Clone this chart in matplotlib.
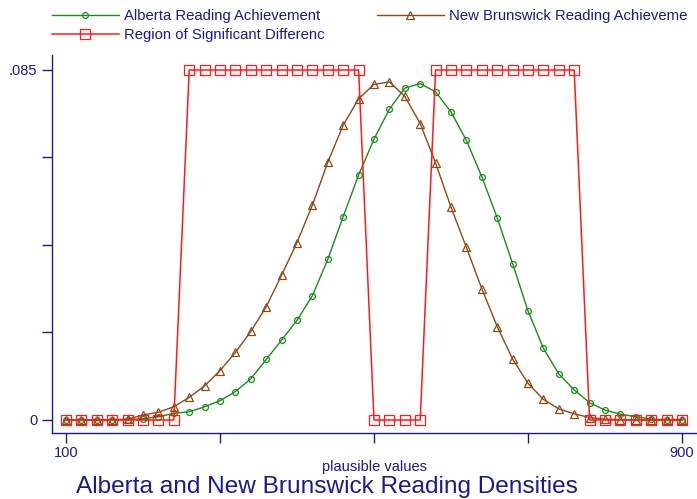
import matplotlib
matplotlib.use('Agg')
import matplotlib.pyplot as plt

plt.rcParams['font.family'] = ['Liberation Sans', 'DejaVu Sans']

# plausible value grid
score = [100, 120, 140, 160, 180, 200, 220, 240, 260, 280,
         300, 320, 340, 360, 380, 400, 420, 440, 460, 480,
         500, 520, 540, 560, 580, 600, 620, 640, 660, 680,
         700, 720, 740, 760, 780, 800, 820, 840, 860, 880, 900]

alberta = [0.0000, 0.0000, 0.0000, 0.0000, 0.0001, 0.0003, 0.0008, 0.0016, 0.0020, 0.0032,
           0.0047, 0.0069, 0.0100, 0.0147, 0.0194, 0.0242, 0.0302, 0.0390, 0.0494, 0.0595,
           0.0682, 0.0755, 0.0806, 0.0817, 0.0797, 0.0748, 0.0679, 0.0591, 0.0491, 0.0380,
           0.0265, 0.0174, 0.0112, 0.0073, 0.0042, 0.0024, 0.0014, 0.0008, 0.0002, 0.0001,
           0.0001]

new_brunswick = [0.0000, 0.0000, 0.0000, 0.0001, 0.0002, 0.0012, 0.0019, 0.0032, 0.0055, 0.0083,
                 0.0120, 0.0164, 0.0215, 0.0275, 0.0352, 0.0431, 0.0522, 0.0626, 0.0716, 0.0780,
                 0.0815, 0.0821, 0.0786, 0.0720, 0.0624, 0.0517, 0.0419, 0.0319, 0.0227, 0.0148,
                 0.0089, 0.0050, 0.0027, 0.0015, 0.0006, 0.0002, 0.0001, 0.0000, 0.0000, 0.0000,
                 0.0000]

signif = [0, 0, 0, 0, 0, 0, 0, 0, .085, .085,
          .085, .085, .085, .085, .085, .085, .085, .085, .085, .085,
          0, 0, 0, 0, .085, .085, .085, .085, .085, .085,
          .085, .085, .085, .085, 0, 0, 0, 0, 0, 0,
          0]

xticks = [100, 300, 500, 700, 900]
xticklabels = ['100', '', '', '', '900']
yticks = [0, .02125, .0425, .06375, .085]
yticklabels = ['0', '', '', '', '.085']

navy = '#1a1a8a'
light = '#7070c0'

fig = plt.figure(figsize=(6.97, 4.99), dpi=100)
ax = fig.add_axes([52/697, 1-433/499, 1-52/697, (433-55)/499])

h1, = ax.plot(score, alberta, color='#1a8c1a', lw=1, marker='o', ms=4.2,
              mfc='none', mew=0.9, label='Alberta Reading Achievement')
h2, = ax.plot(score, new_brunswick, color='#8c4a14', lw=1, marker='^', ms=6.2,
              mfc='none', mew=0.9, label='New Brunswick Reading Achieveme')
h3, = ax.plot(score, signif, color='#ff1a1a', lw=1.1, marker='s', ms=6.5,
              mfc='none', mew=0.9, label='Region of Significant Differenc')

ax.set_xlim(81.8, 919.5)
ax.set_ylim(-0.00316, 0.08864)

ax.set_xticks(xticks)
ax.set_xticklabels(xticklabels)
ax.set_yticks(yticks)
ax.set_yticklabels(yticklabels)
ax.tick_params(axis='both', colors=navy, labelsize=10.5, length=7, width=1)
ax.tick_params(axis='x', pad=2.5)
ax.tick_params(axis='y', pad=3.5)
for t in [ax.xaxis.get_major_ticks()[0], ax.xaxis.get_major_ticks()[-1],
          ax.yaxis.get_major_ticks()[0], ax.yaxis.get_major_ticks()[-1]]:
    t.tick1line.set_color(light)

for s in ['top', 'right']:
    ax.spines[s].set_visible(False)
for s in ['left', 'bottom']:
    ax.spines[s].set_color(navy)
    ax.spines[s].set_linewidth(1)

fig.text(374/697, 1-467/499, 'plausible values', color=navy, fontsize=10.5,
         ha='center', va='center')
fig.text(76/697, 1-487/499, 'Alberta and New Brunswick Reading Densities',
         color=navy, fontsize=17.6, ha='left', va='center')

fig.legend(handles=[h1, h3, h2], ncol=2, loc='upper left',
           bbox_to_anchor=(52/697, 1-9/499), frameon=False, fontsize=10.7,
           handlelength=4.5, handletextpad=0.35, columnspacing=3.5,
           labelspacing=0.32, borderpad=0, borderaxespad=0, numpoints=1,
           labelcolor=navy)

fig.savefig('out.png', dpi=100)
